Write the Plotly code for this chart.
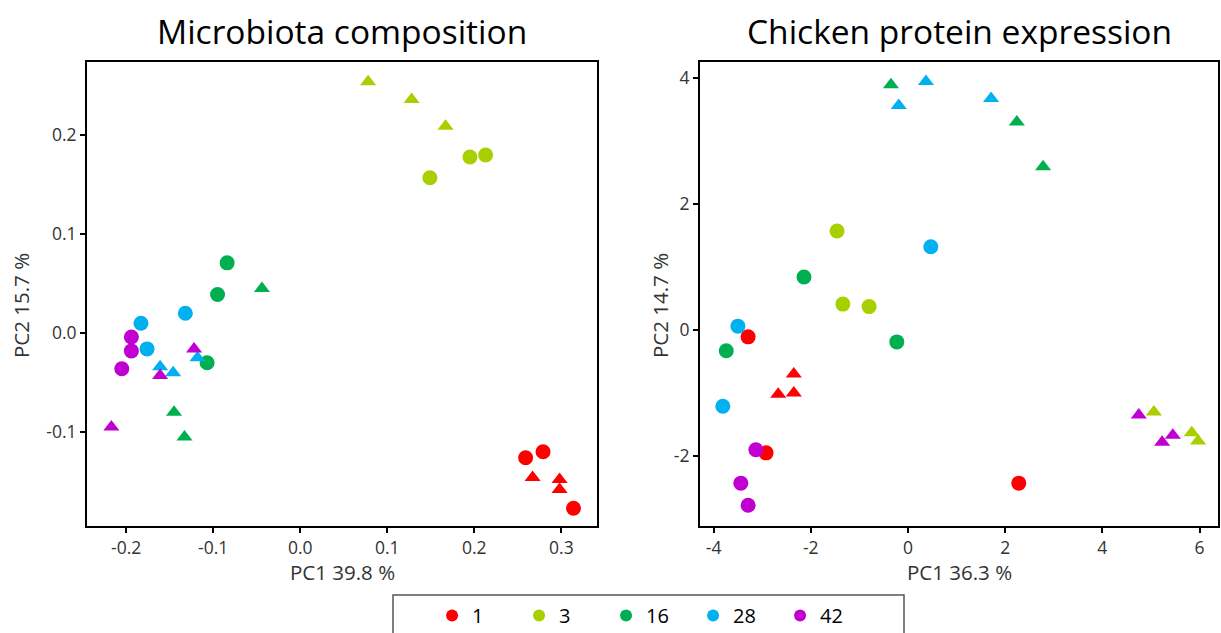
import plotly.graph_objects as go

groups = ["1", "3", "16", "28", "42"]
colors = ["#FF0000", "#A8D000", "#00B050", "#00B0F0", "#C000D0"]

# Microbiota composition (left): circles and triangles per group
mic_circ_x = {"1": [0.259, 0.279, 0.314], "3": [0.149, 0.195, 0.213], "16": [-0.084, -0.095, -0.107],
              "28": [-0.183, -0.176, -0.132], "42": [-0.194, -0.194, -0.205]}
mic_circ_y = {"1": [-0.126, -0.120, -0.177], "3": [0.157, 0.178, 0.180], "16": [0.071, 0.039, -0.030],
              "28": [0.010, -0.016, 0.020], "42": [-0.004, -0.018, -0.036]}
mic_tri_x = {"1": [0.267, 0.298, 0.298], "3": [0.078, 0.128, 0.167], "16": [-0.044, -0.145, -0.133],
             "28": [-0.161, -0.146, -0.118], "42": [-0.217, -0.161, -0.122]}
mic_tri_y = {"1": [-0.146, -0.148, -0.158], "3": [0.254, 0.236, 0.209], "16": [0.045, -0.080, -0.105],
             "28": [-0.034, -0.040, -0.025], "42": [-0.095, -0.043, -0.016]}

# Chicken protein expression (right)
pro_circ_x = {"1": [-3.29, -2.92, 2.28], "3": [-1.46, -1.34, -0.80], "16": [-2.14, -3.74, -0.23],
              "28": [-3.50, -3.81, 0.47], "42": [-3.13, -3.44, -3.29]}
pro_circ_y = {"1": [-0.11, -1.95, -2.43], "3": [1.57, 0.41, 0.37], "16": [0.84, -0.33, -0.19],
              "28": [0.06, -1.21, 1.32], "42": [-1.90, -2.43, -2.78]}
pro_tri_x = {"1": [-2.35, -2.67, -2.35], "3": [5.06, 5.84, 5.97], "16": [-0.35, 2.24, 2.78],
             "28": [0.37, -0.19, 1.71], "42": [4.75, 5.23, 5.45]}
pro_tri_y = {"1": [-0.70, -1.02, -1.00], "3": [-1.30, -1.63, -1.76], "16": [3.89, 3.30, 2.59],
             "28": [3.94, 3.56, 3.67], "42": [-1.35, -1.78, -1.67]}

titles = ["Microbiota composition", "Chicken protein expression"]
x_titles = ["PC1 39.8 %", "PC1 36.3 %"]
y_titles = ["PC2 15.7 %", "PC2 14.7 %"]
left_xticks = [-0.2, -0.1, 0.0, 0.1, 0.2, 0.3]
left_xtick_text = ["-0.2", "-0.1", "0.0", "0.1", "0.2", "0.3"]
left_yticks = [-0.1, 0.0, 0.1, 0.2]
left_ytick_text = ["-0.1", "0.0", "0.1", "0.2"]
right_xticks = [-4, -2, 0, 2, 4, 6]
right_xtick_text = ["-4", "-2", "0", "2", "4", "6"]
right_yticks = [-2, 0, 2, 4]
right_ytick_text = ["-2", "0", "2", "4"]

FONT = "Open Sans"
fig = go.Figure()

def add_panel(cx, cy, tx, ty, xa, ya, show_legend):
    for g, c in zip(groups, colors):
        fig.add_trace(go.Scatter(x=cx[g], y=cy[g], mode="markers", name=g, legendgroup=g,
                                 showlegend=show_legend, xaxis=xa, yaxis=ya,
                                 marker=dict(symbol="circle", size=15, color=c, line=dict(width=0))))
        fig.add_trace(go.Scatter(x=tx[g], y=ty[g], mode="markers", name=g, legendgroup=g,
                                 showlegend=False, xaxis=xa, yaxis=ya,
                                 marker=dict(symbol="triangle-up", size=14, color=c, line=dict(width=0))))

add_panel(mic_circ_x, mic_circ_y, mic_tri_x, mic_tri_y, "x", "y", True)
add_panel(pro_circ_x, pro_circ_y, pro_tri_x, pro_tri_y, "x2", "y2", False)

axis_common = dict(showline=True, linecolor="black", linewidth=2, mirror=True, ticks="outside",
                   ticklen=5, tickwidth=2, tickcolor="black", showgrid=False, zeroline=False,
                   tickfont=dict(family=FONT, size=17.5, color="#333333"))

W, H = 1221, 633
def px_x(p): return p / W
def px_y(p): return 1 - p / H

fig.update_layout(
    width=W, height=H, margin=dict(l=0, r=0, t=0, b=0, autoexpand=False),
    paper_bgcolor="white", plot_bgcolor="white",
    xaxis=dict(domain=[px_x(87), px_x(597)], range=[-0.245, 0.341], tickvals=left_xticks,
               ticktext=left_xtick_text, anchor="y", **axis_common),
    yaxis=dict(domain=[px_y(526), px_y(62)], range=[-0.195, 0.274], tickvals=left_yticks,
               ticktext=left_ytick_text, anchor="x", **axis_common),
    xaxis2=dict(domain=[px_x(700), px_x(1218)], range=[-4.28, 6.38], tickvals=right_xticks,
                ticktext=right_xtick_text, anchor="y2", **axis_common),
    yaxis2=dict(domain=[px_y(526), px_y(62)], range=[-3.11, 4.25], tickvals=right_yticks,
                ticktext=right_ytick_text, anchor="x2", **axis_common),
    showlegend=True,
    legend=dict(orientation="h", x=0.532, xanchor="center", y=px_y(596), yanchor="top",
                borderwidth=0, bgcolor="rgba(0,0,0,0)",
                font=dict(family=FONT, size=20, color="black"),
                entrywidth=42, itemsizing="constant"),
    shapes=[dict(type="rect", xref="paper", yref="paper", x0=px_x(393), x1=px_x(904),
                 y0=px_y(650), y1=px_y(595), line=dict(color="#555555", width=1.5),
                 fillcolor="rgba(0,0,0,0)", layer="below")],
)

annotations = []
for i, (xd, t) in enumerate(zip([(87, 597), (700, 1218)], titles)):
    cxp = (xd[0] + xd[1]) / 2
    annotations.append(dict(text=t, x=px_x(cxp), y=px_y(31), xref="paper", yref="paper",
                            showarrow=False, xanchor="center", yanchor="middle",
                            font=dict(family=FONT, size=33.5, color="black")))
    annotations.append(dict(text=x_titles[i], x=px_x(cxp), y=px_y(572), xref="paper", yref="paper",
                            showarrow=False, xanchor="center", yanchor="middle",
                            font=dict(family=FONT, size=20.5, color="#333333")))
for xp, t in zip([21, 660], y_titles):
    annotations.append(dict(text=t, x=px_x(xp), y=px_y(306), xref="paper", yref="paper",
                            showarrow=False, xanchor="center", yanchor="middle", textangle=-90,
                            font=dict(family=FONT, size=20.5, color="#333333")))
fig.update_layout(annotations=annotations)

fig.write_html("out.html", config={"displayModeBar": False},
               post_script="document.body.style.margin='0';document.body.style.overflow='hidden';")
